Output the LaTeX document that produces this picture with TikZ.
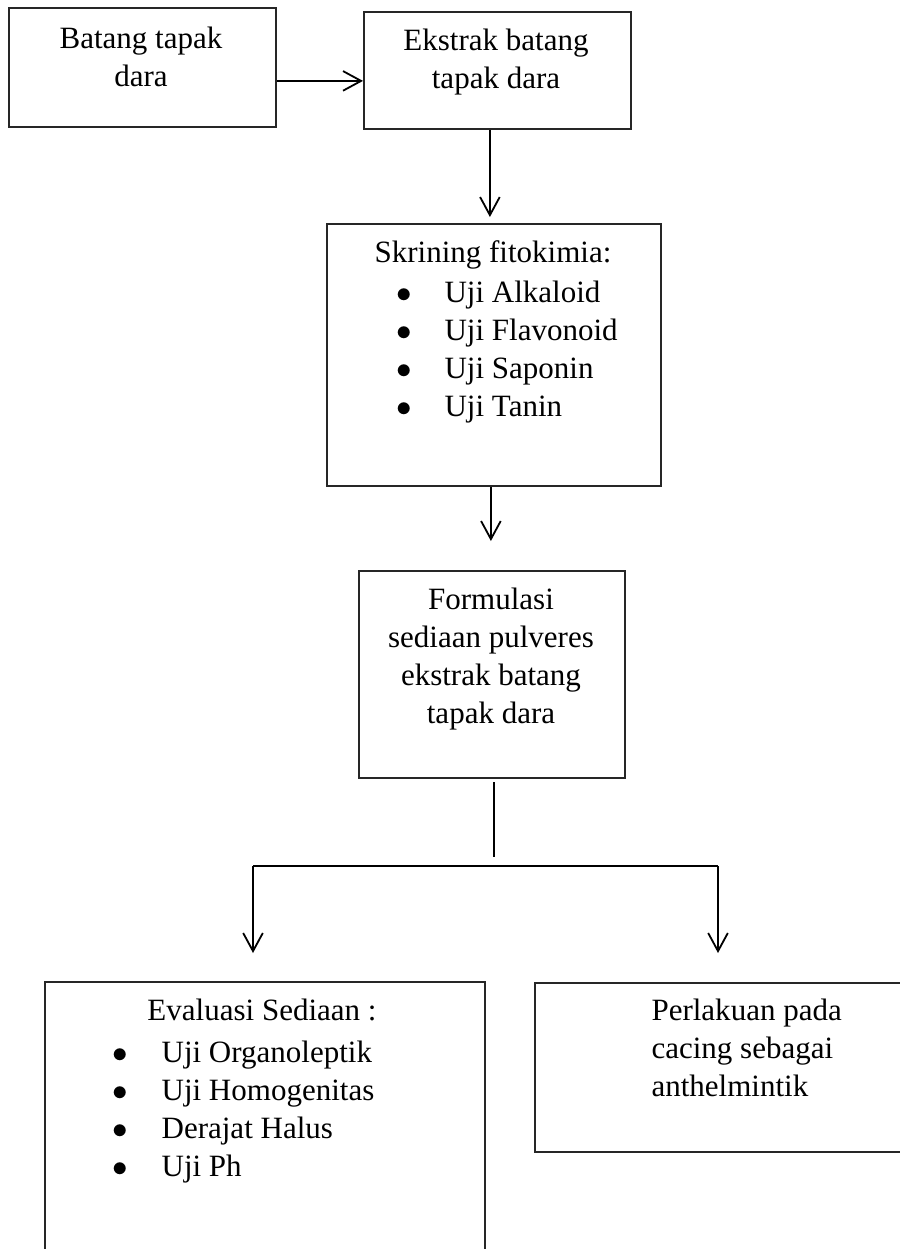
\documentclass[tikz,border=0pt]{standalone}
\usepackage{fontspec}
\setmainfont{Liberation Serif}
\usetikzlibrary{positioning, arrows.meta, calc}
\usepackage{amsmath}

\def\upx{0.387pt}

\begin{document}
\begin{tikzpicture}[
    x=\upx, y=-\upx,
    every node/.style={font=\fontsize{12}{14.7}\selectfont},
    box/.style={draw=black!85, line width=0.7pt, inner sep=0pt, anchor=north west},
    boxsize/.style 2 args={minimum width=#1*\upx, minimum height=#2*\upx},
    txt/.style={inner sep=0pt, align=center, anchor=base},
    lst/.style={inner sep=0pt, align=left, anchor=base west},
    flow/.style={-{Straight Barb[length=7pt, width=7.6pt]}, line width=0.7pt},
    link/.style={line width=0.7pt}]
  \useasboundingbox (0,0) rectangle (900,1249);
  \clip (0,0) rectangle (900,1249);
  % --- gorne pudelka: batang -> ekstrak (tekst kotwiczony na ostatniej linii) ---
  \node[box, boxsize={267}{119}] (batang)  at (8,7)   {};
  \node[box, boxsize={267}{117}] (ekstrak) at (363,11) {};
  \node[txt] (batang-t)  at (141,86) {Batang tapak\\dara};
  \node[txt] (ekstrak-t) at (496,88) {Ekstrak batang\\tapak dara};
  % --- skrining i formulasi ---
  \node[box, boxsize={334}{262}] (skrining)  at (326,223) {};
  \node[txt] (skrining-t) at (493,262) {Skrining fitokimia:};
  \node[lst] (skrining-l) at (396,416)
        {\makebox[18.6pt][l]{$\bullet$}Uji Alkaloid\\
         \makebox[18.6pt][l]{$\bullet$}Uji Flavonoid\\
         \makebox[18.6pt][l]{$\bullet$}Uji Saponin\\
         \makebox[18.6pt][l]{$\bullet$}Uji Tanin};
  \node[box, boxsize={266}{207}] (formulasi) at (358,570) {};
  \node[txt] (formulasi-t) at (491,723)
        {Formulasi\\sediaan pulveres\\ekstrak batang\\tapak dara};
  % --- dolny wiersz: evaluasi i perlakuan ---
  \node[box, boxsize={440}{330}] (evaluasi)  at (44,981)  {};
  \node[txt] (evaluasi-t) at (262,1020) {Evaluasi Sediaan :};
  \node[lst] (evaluasi-l) at (112,1176)
        {\makebox[19pt][l]{$\bullet$}Uji Organoleptik\\
         \makebox[19pt][l]{$\bullet$}Uji Homogenitas\\
         \makebox[19pt][l]{$\bullet$}Derajat Halus\\
         \makebox[19pt][l]{$\bullet$}Uji Ph};
  \node[box, boxsize={430}{169}] (perlakuan) at (534,982) {};
  \node[lst] (perlakuan-t) at (651,1096)
        {Perlakuan pada\\cacing sebagai\\anthelmintik};

  \draw[flow] ([yshift=-13.5*\upx]batang.east) -- ([yshift=-13.5*\upx]batang.east -| ekstrak.west);
  \draw[flow, shorten >=6*\upx] ([xshift=-7.5*\upx]ekstrak.south)
        -- ([xshift=-7.5*\upx]ekstrak.south |- skrining.north);
  \draw[flow, shorten >=29*\upx] ([xshift=-3*\upx]skrining.south)
        -- ([xshift=-3*\upx]skrining.south |- formulasi.north);
  % --- rozgalezienie pod formulasi ---
  \coordinate (stemtop) at (494,782);
  \coordinate (stembot) at (494,857);
  \coordinate (brL) at (253,866);
  \coordinate (brR) at (718,866);
  \draw[link] (stemtop) -- (stembot);
  \draw[link] (brL) -- (brR);
  \draw[flow, shorten >=28*\upx] (brL) -- (brL |- evaluasi.north);
  \draw[flow, shorten >=29*\upx] (brR) -- (brR |- perlakuan.north);
\end{tikzpicture}
\end{document}
